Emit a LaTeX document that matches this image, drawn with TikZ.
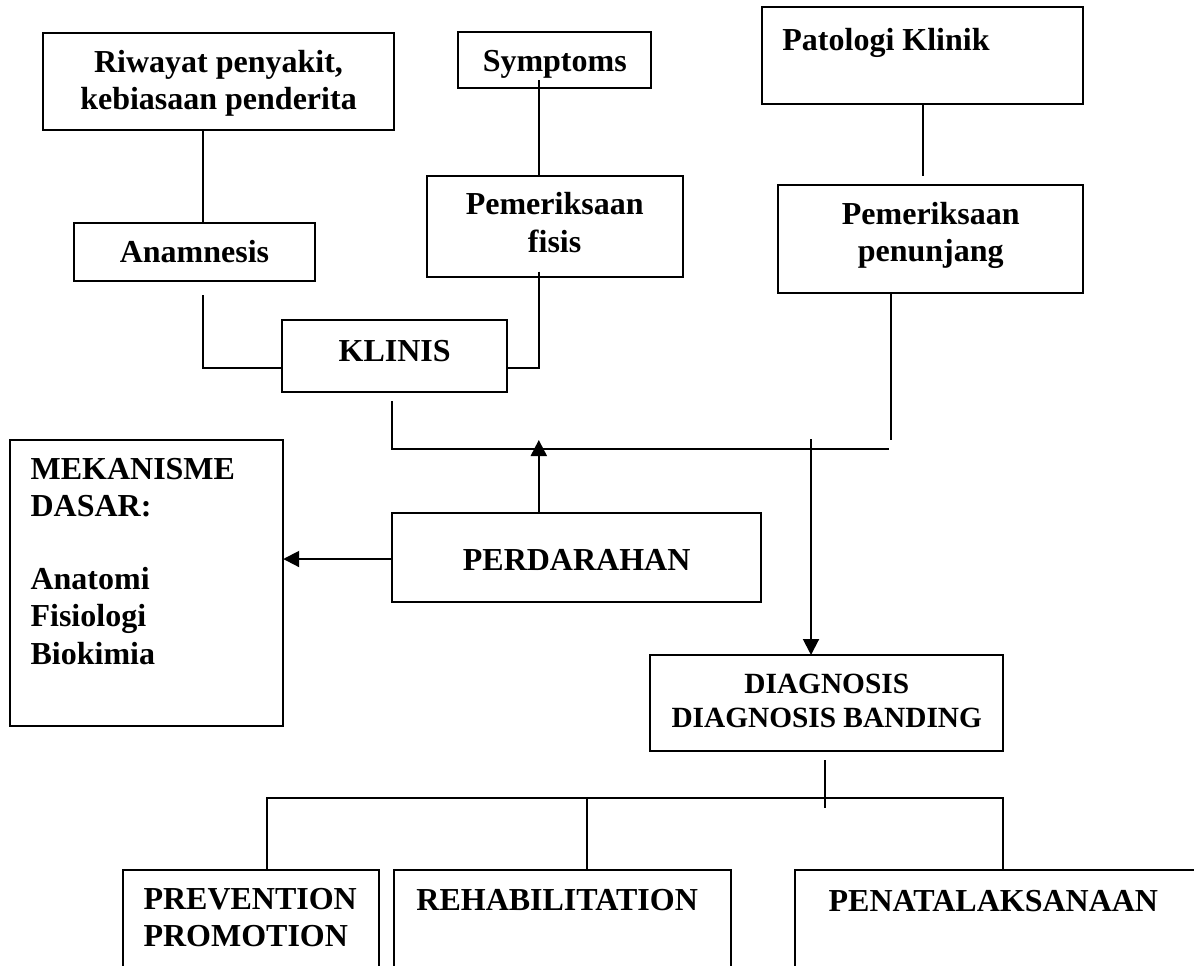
\documentclass[tikz,border=0pt]{standalone}
\usepackage{fontspec}
\setmainfont{Liberation Serif}
\usetikzlibrary{arrows.meta}
\begin{document}
\begin{tikzpicture}[x=0.75pt,y=-0.75pt,
  box/.style={draw, line width=1.5pt, rectangle, inner sep=0pt, outer sep=0pt},
  txt/.style={inner sep=0pt, outer sep=0pt, font=\fontsize{24}{28}\selectfont\bfseries},
  txts/.style={inner sep=0pt, outer sep=0pt, font=\fontsize{22}{25.3}\selectfont\bfseries},
  ln/.style={line width=1.5pt},
  arr/.style={line width=1.5pt, -{Triangle[length=12pt,width=12pt]}}]
\useasboundingbox (0,0) rectangle (1194,965);
\clip (0,0) rectangle (1194,965);
\fill[white] (0,0) rectangle (1194,965);

% boxes
\node[box, minimum width=263.7pt, minimum height=73.2pt] (riw) at (218.55,81.4) {};
\node[box, minimum width=144.4pt, minimum height=42.4pt] (sym) at (554.75,60.2) {};
\node[box, minimum width=240.4pt, minimum height=72.5pt] (pat) at (922.75,55.65) {};
\node[box, minimum width=180.8pt, minimum height=43pt] (ana) at (194.45,252) {};
\node[box, minimum width=191.9pt, minimum height=75.75pt] (fis) at (554.65,226.2) {};
\node[box, minimum width=228.4pt, minimum height=81.2pt] (pen) at (930.75,239.15) {};
\node[box, minimum width=168.45pt, minimum height=53.8pt] (kli) at (394.7,355.85) {};
\node[box, minimum width=204.7pt, minimum height=214.5pt] (mek) at (146.75,583) {};
\node[box, minimum width=276.5pt, minimum height=66.75pt] (per) at (576.65,557.8) {};
\node[box, minimum width=264.4pt, minimum height=71.8pt] (dia) at (826.75,702.85) {};
\node[box, minimum width=192.3pt, minimum height=97.5pt] (pre) at (250.7,935) {};
\node[box, minimum width=252.4pt, minimum height=97.5pt] (reh) at (562.45,935) {};
\node[box, minimum width=326.25pt, minimum height=97.5pt] (pena) at (1012.5,935) {};

% texts
\node[txt, align=center] (riwT) at (218.55,83.1) {Riwayat penyakit,\\kebiasaan penderita};
\node[txt, anchor=base] (symT) at (554.75,71.7) {Symptoms};
\node[txt, anchor=base west] (patT) at (782.4,50) {Patologi Klinik};
\node[txt, anchor=base] (anaT) at (194.45,262.3) {Anamnesis};
\node[txt, align=center] (fisT) at (554.65,222.5) {Pemeriksaan\\fisis};
\node[txt, align=center] (penT) at (930.75,235.6) {Pemeriksaan\\penunjang};
\node[txt, anchor=base] (kliT) at (394.7,361.7) {KLINIS};
\node[txt, align=left, anchor=north west] (mekT) at (30.6,458.3) {MEKANISME\\DASAR:\\[26.5pt]Anatomi\\Fisiologi\\Biokimia};
\node[txt, anchor=base] (perT) at (576.65,570) {PERDARAHAN};
\node[txts, align=center] (diaT) at (826.75,701) {DIAGNOSIS\\DIAGNOSIS BANDING};
\node[txt, align=left, anchor=north west] (preT) at (143.5,888.3) {PREVENTION\\PROMOTION};
\node[txt, anchor=base west] (rehT) at (416.4,910) {REHABILITATION};
\node[txt, anchor=base west] (penaT) at (828.6,911.7) {PENATALAKSANAAN};

% connector coordinates
\coordinate (riwX) at (202.8,0);
\coordinate (symS) at (538.8,80);
\coordinate (patE) at (923,176);
\coordinate (anaS) at (202.8,295);
\coordinate (fisS) at (538.8,271.7);
\coordinate (kj) at (0,368);
\coordinate (kliS) at (392.3,401);
\coordinate (hE) at (888.5,449.3);
\coordinate (penE) at (891.3,440);
\coordinate (upT) at (538.8,440);
\coordinate (dnS) at (811,439.3);
\coordinate (lfS) at (396,559);
\coordinate (diaS) at (824.7,760);
\coordinate (diaE) at (824.7,808.3);
\coordinate (tr) at (0,798.3);
\coordinate (preX) at (266.7,0);
\coordinate (rehX) at (586.5,0);
\coordinate (penaX) at (1003,0);

% connectors
\draw[ln] (riw.south -| riwX) -- (ana.north -| riwX);
\draw[ln] (symS) -- (symS |- fis.north);
\draw[ln] (pat.south -| patE) -- (patE);
\draw[ln] (anaS) |- (kli.west |- kj);
\draw[ln] (fisS) |- (kli.east |- kj);
\draw[ln] (kliS) |- (hE);
\draw[ln] (pen.south -| penE) -- (penE);
\draw[arr] (per.north -| upT) -- (upT);
\draw[arr] (dnS) -- (dnS |- dia.north);
\draw[arr] (per.west |- lfS) -- (lfS -| mek.east);
\draw[ln] (diaS) -- (diaE);
\draw[ln] (pre.north -| preX) -- (preX |- tr) -- (penaX |- tr) -- (pena.north -| penaX);
\draw[ln] (rehX |- tr) -- (reh.north -| rehX);
\end{tikzpicture}
\end{document}
